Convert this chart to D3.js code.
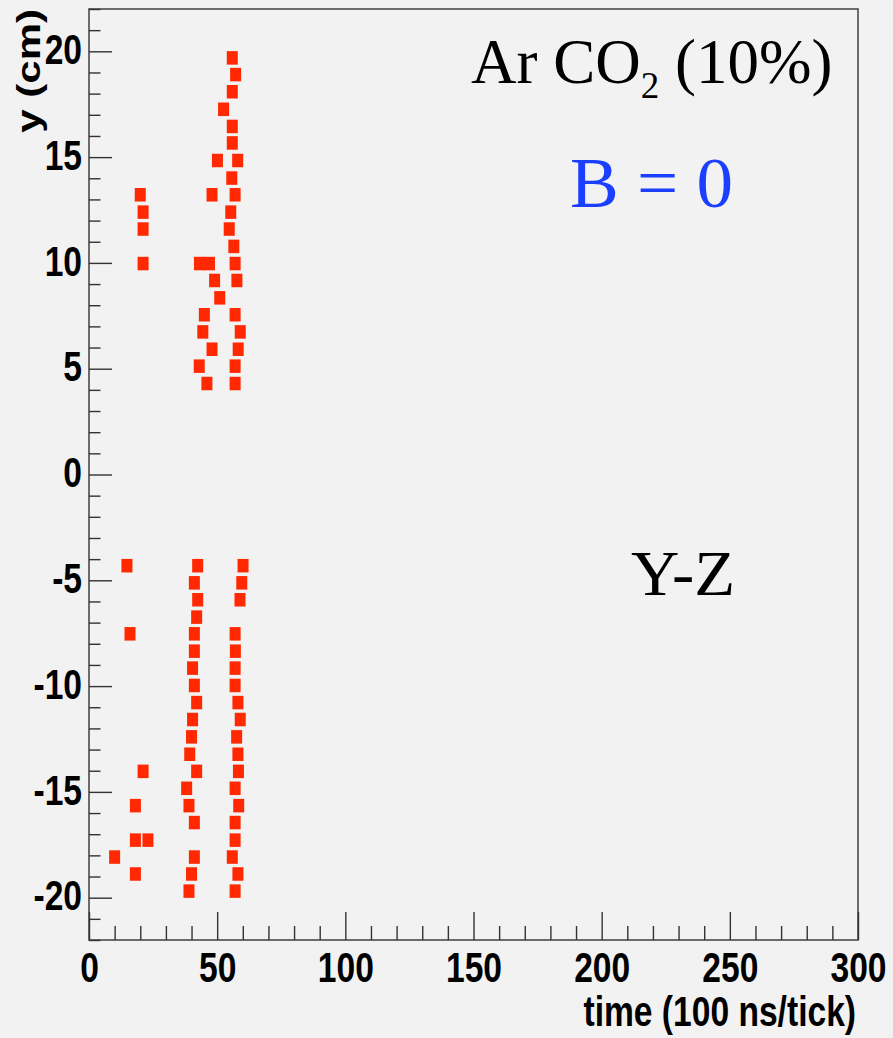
<!DOCTYPE html>
<html>
<head>
<meta charset="utf-8">
<script src="https://cdn.jsdelivr.net/npm/d3@7"></script>
<style>
  body { margin: 0; background: #f2f2f2; }
  svg { display: block; }
</style>
</head>
<body>
<div id="chart"></div>
<script>
// hits in the upper half (y > 0)
let upperTime = [55.9, 57.2, 55.9, 52.5, 55.9, 55.9, 50.1, 58.0, 55.7, 20.0, 48.0, 57.0,
                 21.1, 55.3, 21.1, 54.7, 56.5, 21.1, 43.1, 47.0, 57.0, 49.0, 57.7, 51.0,
                 45.0, 57.0, 44.4, 59.0, 48.0, 58.2, 43.0, 57.0, 46.0, 57.0];
let upperY    = [19.69, 18.9, 18.09, 17.26, 16.45, 15.67, 14.84, 14.84, 14.01, 13.22, 13.22, 13.22,
                 12.40, 12.40, 11.6, 11.6, 10.78, 9.97, 9.97, 9.97, 9.97, 9.17, 9.17, 8.35,
                 7.55, 7.55, 6.74, 6.74, 5.92, 5.92, 5.12, 5.12, 4.30, 4.30];

// hits in the lower half (y < 0)
let lowerTime = [14.8, 42.4, 60.1, 41.1, 59.6, 42.4, 58.9, 42.0, 16.0, 41.1, 57.0, 41.1,
                 57.1, 40.4, 57.0, 41.1, 57.0, 42.0, 58.1, 40.4, 59.0, 40.0, 57.6, 39.3,
                 58.1, 21.1, 42.0, 58.3, 38.1, 57.0, 18.1, 39.0, 58.4, 41.1, 57.0, 18.1,
                 23.0, 57.0, 10.0, 41.1, 55.9, 18.1, 40.0, 58.1, 39.0, 57.0];
let lowerY    = [-4.31, -4.31, -4.31, -5.12, -5.12, -5.92, -5.92, -6.74, -7.53, -7.53, -7.53, -8.35,
                 -8.35, -9.15, -9.15, -9.97, -9.97, -10.78, -10.78, -11.58, -11.58, -12.4, -12.4, -13.22,
                 -13.22, -14.03, -14.03, -14.03, -14.83, -14.83, -15.65, -15.65, -15.65, -16.45, -16.45, -17.28,
                 -17.28, -17.28, -18.08, -18.08, -18.08, -18.88, -18.88, -18.88, -19.69, -19.69];

let xMajorTicks = [0, 50, 100, 150, 200, 250, 300];
let yMajorTicks = [-20, -15, -10, -5, 0, 5, 10, 15, 20];

let W = 893, H = 1038;
let frame = {left: 89, right: 858, top: 9, bottom: 940};

let x = d3.scaleLinear().domain([0, 300]).range([frame.left, frame.right]);
let y = d3.scaleLinear().domain([-22, 22]).range([frame.bottom, frame.top]);

let svg = d3.select("#chart").append("svg")
    .attr("width", W)
    .attr("height", H);

svg.append("rect")
    .attr("width", W).attr("height", H)
    .attr("fill", "#f2f2f2");

// points
let hits = upperTime.map((t, i) => ({t: t, y: upperY[i]}))
  .concat(lowerTime.map((t, i) => ({t: t, y: lowerY[i]})));

let mw = 11, mh = 13.5;
svg.append("g").selectAll("rect")
    .data(hits)
  .enter().append("rect")
    .attr("x", d => x(d.t) - mw / 2)
    .attr("y", d => y(d.y) - mh / 2)
    .attr("width", mw)
    .attr("height", mh)
    .attr("fill", "#ff2800");

// frame
svg.append("rect")
    .attr("x", frame.left).attr("y", frame.top)
    .attr("width", frame.right - frame.left)
    .attr("height", frame.bottom - frame.top)
    .attr("fill", "none")
    .attr("stroke", "#4a4a4a")
    .attr("stroke-width", 1.6);

let tickFont = "'Liberation Sans', Arial, sans-serif";
let plain = d => String(d);  // plain hyphen for negatives, like the original

// y axis, minor ticks
svg.append("g")
    .attr("transform", "translate(" + frame.left + ",0)")
    .call(d3.axisLeft(y)
      .tickValues(d3.range(-22, 23).filter(v => v % 5 !== 0))
      .tickSizeInner(-11.5).tickSizeOuter(0).tickFormat(""))
    .call(g => g.select(".domain").remove())
    .selectAll("line").attr("stroke", "#333").attr("stroke-width", 1.4);

// y axis, major ticks + labels
let yAx = svg.append("g")
    .attr("transform", "translate(" + frame.left + ",0)")
    .call(d3.axisLeft(y)
      .tickValues(yMajorTicks)
      .tickFormat(plain)
      .tickSizeInner(-23).tickSizeOuter(0).tickPadding(7));
yAx.select(".domain").remove();
yAx.selectAll("line").attr("stroke", "#333").attr("stroke-width", 1.4);
yAx.selectAll("text")
    .attr("x", -7 / 0.8)
    .attr("dy", "0.29em")
    .attr("transform", "scale(0.8,1)")
    .attr("fill", "#000")
    .style("font-family", tickFont)
    .style("font-weight", "bold")
    .style("font-size", "42px");

// x axis, minor ticks
svg.append("g")
    .attr("transform", "translate(0," + frame.bottom + ")")
    .call(d3.axisBottom(x)
      .tickValues(d3.range(0, 301, 10).filter(v => v % 50 !== 0))
      .tickSizeInner(-14).tickSizeOuter(0).tickFormat(""))
    .call(g => g.select(".domain").remove())
    .selectAll("line").attr("stroke", "#333").attr("stroke-width", 1.4);

// x axis, major ticks + labels
let xAx = svg.append("g")
    .attr("transform", "translate(0," + frame.bottom + ")")
    .call(d3.axisBottom(x)
      .tickValues(xMajorTicks)
      .tickFormat(plain)
      .tickSizeInner(-28).tickSizeOuter(0).tickPadding(12));
xAx.select(".domain").remove();
xAx.selectAll("line").attr("stroke", "#333").attr("stroke-width", 1.4);
xAx.selectAll("text")
    .attr("transform", "scale(0.8,1)")
    .attr("fill", "#000")
    .style("font-family", tickFont)
    .style("font-weight", "bold")
    .style("font-size", "42px");

// axis titles
svg.append("text")
    .attr("transform", "translate(856,1026) scale(0.8,1)")
    .attr("text-anchor", "end")
    .style("font-family", tickFont)
    .style("font-weight", "bold")
    .style("font-size", "42px")
    .text("time (100 ns/tick)");

svg.append("text")
    .attr("transform", "translate(39.5,9) scale(0.8,1) rotate(-90)")
    .attr("text-anchor", "end")
    .style("font-family", tickFont)
    .style("font-weight", "bold")
    .style("font-size", "42px")
    .text("y (cm)");

// annotations
let serif = "'Liberation Serif', 'Times New Roman', serif";

let gas = svg.append("text")
    .attr("x", 471).attr("y", 83)
    .style("font-family", serif)
    .style("font-size", "63px")
    .attr("fill", "#000");
gas.append("tspan").text("Ar CO");
gas.append("tspan").attr("dy", 15).style("font-size", "37px").text("2");
gas.append("tspan").attr("dy", -15).text(" (10%)");

svg.append("text")
    .attr("x", 570).attr("y", 207)
    .attr("textLength", 163)
    .attr("lengthAdjust", "spacingAndGlyphs")
    .style("font-family", serif)
    .style("font-size", "72px")
    .attr("fill", "#1a3fff")
    .text("B = 0");

svg.append("text")
    .attr("x", 631).attr("y", 595)
    .attr("textLength", 104)
    .attr("lengthAdjust", "spacingAndGlyphs")
    .style("font-family", serif)
    .style("font-size", "63px")
    .attr("fill", "#000")
    .text("Y-Z");
</script>
</body>
</html>
